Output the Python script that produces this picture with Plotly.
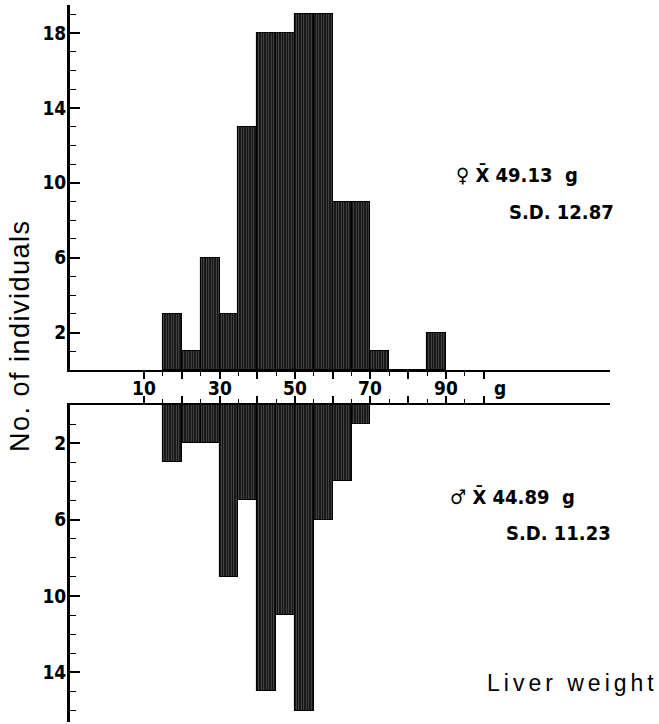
import plotly.graph_objects as go

# ---------------- data ----------------
BIN_WIDTH = 5
FEMALE_BIN_LEFT = [15, 20, 25, 30, 35, 40, 45, 50, 55, 60, 65, 70, 75, 80, 85]
FEMALE_COUNTS = [3, 1, 6, 3, 13, 18, 18, 19, 19, 9, 9, 1, 0, 0, 2]
MALE_BIN_LEFT = [15, 20, 25, 30, 35, 40, 45, 50, 55, 60, 65]
MALE_COUNTS = [3, 2, 2, 9, 5, 15, 11, 16, 6, 4, 1]

X_TICKS = [10, 20, 30, 40, 50, 60, 70, 80, 90, 100]
X_MINOR_TICKS = [15, 25, 35, 45, 55, 65, 75, 85, 95]
X_LABEL_VALUES = [10, 30, 50, 70, 90, 104.3]
X_LABELS = ["10", "30", "50", "70", "90", "g"]

F_Y_TICKS = [2, 6, 10, 14, 18]
M_Y_TICKS = [2, 6, 10, 14]

FEMALE_MEAN, FEMALE_SD = "49.13", "12.87"
MALE_MEAN, MALE_SD = "44.89", "11.23"
Y_TITLE = "No. of individuals"
X_TITLE = "Liver weight"

# ---------------- layout helpers ----------------
W, H = 659, 724


def px_x(p):
    return p / W


def px_y(p):
    return 1 - p / H


f_centers = [b + BIN_WIDTH / 2 for b in FEMALE_BIN_LEFT]
m_centers = [b + BIN_WIDTH / 2 for b in MALE_BIN_LEFT]

bar_marker = dict(
    color="#141414",
    line=dict(color="black", width=1.1),
    pattern=dict(shape="|", size=2.5, solidity=0.24, fgcolor="#c4c4c4", bgcolor="#141414"),
)

fig = go.Figure()
fig.add_trace(go.Bar(x=f_centers, y=FEMALE_COUNTS, width=BIN_WIDTH, marker=bar_marker,
                     xaxis="x", yaxis="y", showlegend=False, hoverinfo="skip"))
fig.add_trace(go.Bar(x=m_centers, y=MALE_COUNTS, width=BIN_WIDTH, marker=bar_marker,
                     xaxis="x2", yaxis="y2", showlegend=False, hoverinfo="skip"))

num_font = dict(family="DejaVu Sans Condensed, Liberation Sans Narrow, DejaVu Sans", size=19,
                color="black", weight="bold")
x_dom = [px_x(70), px_x(610)]
x_range = [-9.65, 133.5]

common_x = dict(domain=x_dom, range=x_range, showline=True, linecolor="black", linewidth=1.5,
                showgrid=False, zeroline=False, automargin=False, ticks="outside",
                tickmode="array", tickvals=X_TICKS, showticklabels=False,
                ticklen=7, tickwidth=1.5, tickcolor="black",
                minor=dict(tickmode="array", tickvals=X_MINOR_TICKS, ticks="outside",
                           ticklen=4, tickwidth=1.2, tickcolor="black"))

common_y = dict(showline=True, linecolor="black", linewidth=3, showgrid=False, zeroline=False,
                automargin=False, ticks="inside", tickmode="array", ticklen=10, tickwidth=1.6,
                tickcolor="black", tickfont=num_font, ticklabelstandoff=-3,
                minor=dict(dtick=1, tick0=0, ticks="inside", ticklen=6, tickwidth=1.4,
                           tickcolor="black"))

fig.update_layout(
    width=W, height=H,
    margin=dict(l=0, r=0, t=0, b=0, autoexpand=False),
    paper_bgcolor="white", plot_bgcolor="white",
    bargap=0,
    xaxis=dict(**common_x, anchor="y"),
    xaxis2=dict(**common_x, anchor="y2", matches="x", side="top"),
    yaxis=dict(**common_y, domain=[px_y(370), px_y(5)], range=[0, 19.5], anchor="x",
               tickvals=F_Y_TICKS),
    yaxis2=dict(**common_y, domain=[px_y(722), px_y(405)], range=[16.6, 0], anchor="x2",
                tickvals=M_Y_TICKS),
)

stat_font = dict(family="DejaVu Sans Condensed, Liberation Sans Narrow, DejaVu Sans", size=20,
                 color="black", weight="bold")
title_font = dict(family="Liberation Sans, Arial, sans-serif", size=27, color="black")

annotations = [
    dict(text=lab, x=val, xref="x", y=px_y(388), yref="paper",
         showarrow=False, font=num_font, xanchor="center", yanchor="middle")
    for lab, val in zip(X_LABELS, X_LABEL_VALUES)
]
annotations += [
    dict(text=f"♀ X̄ {FEMALE_MEAN}  g", x=px_x(454), y=px_y(175), xref="paper", yref="paper",
         showarrow=False, font=stat_font, xanchor="left", yanchor="middle"),
    dict(text=f"S.D. {FEMALE_SD}", x=px_x(507), y=px_y(212), xref="paper", yref="paper",
         showarrow=False, font=stat_font, xanchor="left", yanchor="middle"),
    dict(text=f"♂ X̄ {MALE_MEAN}  g", x=px_x(448), y=px_y(497), xref="paper", yref="paper",
         showarrow=False, font=stat_font, xanchor="left", yanchor="middle"),
    dict(text=f"S.D. {MALE_SD}", x=px_x(504), y=px_y(533), xref="paper", yref="paper",
         showarrow=False, font=stat_font, xanchor="left", yanchor="middle"),
    dict(text=f'<span style="letter-spacing:1.5px">{Y_TITLE}</span>', x=px_x(20), y=px_y(336),
         xref="paper", yref="paper", textangle=-90,
         showarrow=False, font=title_font, xanchor="center", yanchor="middle"),
    dict(text=f'<span style="letter-spacing:4px">{X_TITLE}</span>', x=px_x(485), y=px_y(683),
         xref="paper", yref="paper", showarrow=False,
         font=dict(family="Liberation Sans, Arial, sans-serif", size=23, color="black"),
         xanchor="left", yanchor="middle"),
]
fig.update_layout(annotations=annotations)

fig.write_html("out.html", config={"displayModeBar": False},
               post_script="document.body.style.margin='0px';")
